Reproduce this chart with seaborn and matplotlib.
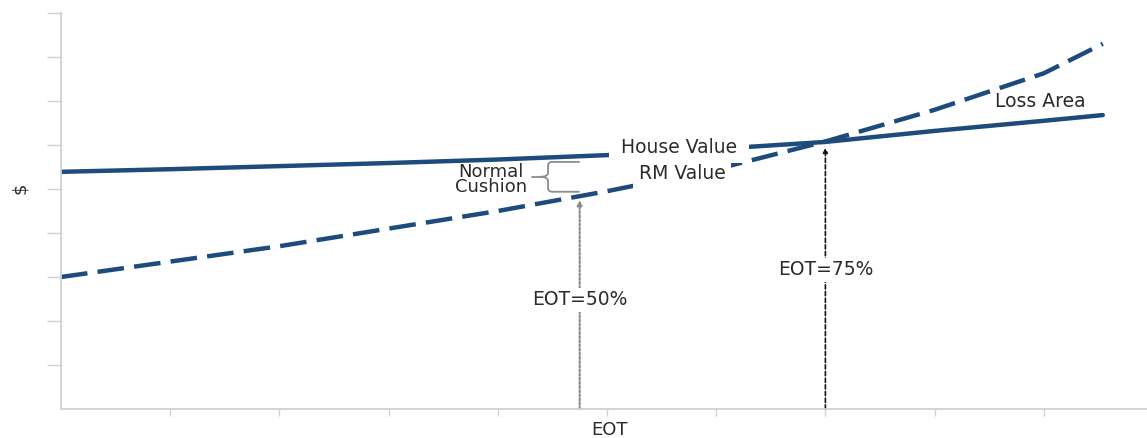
import numpy as np
import pandas as pd
import matplotlib
matplotlib.use("Agg")
import matplotlib.pyplot as plt
from matplotlib.path import Path
from matplotlib.patches import PathPatch
import seaborn as sns

# ---- data ----
x_pos = [0, 1, 2, 3, 4, 5, 6, 7, 8, 9, 9.54]
house_value = [5.39, 5.45, 5.52, 5.59, 5.67, 5.77, 5.91, 6.07, 6.32, 6.55, 6.68]
rm_value = [3.00, 3.35, 3.70, 4.10, 4.50, 4.95, 5.45, 6.08, 6.80, 7.63, 8.30]
series_names = ["House Value", "RM Value"]
eot50_x = 4.75
eot75_x = 7.0
eot50_label = "EOT=50%"
eot75_label = "EOT=75%"
cushion_label = "Normal\nCushion"
loss_label = "Loss Area"
x_title = "EOT"
y_title = "$"

df = pd.DataFrame({
    "x": x_pos * 2,
    "value": house_value + rm_value,
    "series": [series_names[0]] * len(x_pos) + [series_names[1]] * len(x_pos),
})

sns.set_style("white")
plt.rcParams["font.family"] = ["DejaVu Sans"]

W, H = 1147, 438
fig = plt.figure(figsize=(W / 100, H / 100), dpi=100)
ax = fig.add_axes([61 / W, 29 / H, 1086 / W, 396 / H])

line_color = "#1d4b7b"
text_color = "#2b2b2b"
axis_color = "#d0d0d0"

sns.lineplot(data=df, x="x", y="value", hue="series", style="series",
             palette={series_names[0]: line_color, series_names[1]: line_color},
             dashes={series_names[0]: "", series_names[1]: (6, 2.3)},
             estimator=None, sort=True, legend=False, linewidth=3.2, ax=ax)

ax.set_xlim(0, 1086 / 109.2)
ax.set_ylim(0, 9)
ax.set_xticks(range(1, 10))
ax.set_yticks(range(1, 10))
ax.set_xticklabels([])
ax.set_yticklabels([])
for s in ["top", "right"]:
    ax.spines[s].set_visible(False)
for s in ["left", "bottom"]:
    ax.spines[s].set_color(axis_color)
    ax.spines[s].set_linewidth(1.3)
ax.tick_params(axis="y", direction="out", length=10, width=1, color=axis_color, left=True)
ax.tick_params(axis="x", direction="out", length=5, width=1, color=axis_color, bottom=True)

ax.set_xlabel(x_title, fontsize=13, color=text_color)
ax.xaxis.set_label_coords(0.5055, -0.030)
ax.set_ylabel(y_title, fontsize=13, color=text_color)
ax.yaxis.set_label_coords(-0.0295, 0.558)

# ---- EOT arrows ----
rm50 = np.interp(eot50_x, x_pos, rm_value)
tip75 = min(np.interp(eot75_x, x_pos, house_value), np.interp(eot75_x, x_pos, rm_value))
ax.annotate("", xy=(eot50_x, rm50 - 0.09), xytext=(eot50_x, 0),
            arrowprops=dict(arrowstyle="-|>", mutation_scale=7, color="#888888",
                            linestyle=(0, (1.0, 1.0)), lw=1.5, shrinkA=0, shrinkB=0),
            zorder=1)
ax.annotate("", xy=(eot75_x, tip75 - 0.13), xytext=(eot75_x, 0),
            arrowprops=dict(arrowstyle="-|>", mutation_scale=7, color="#111111",
                            linestyle=(0, (2.5, 1.5)), lw=1.2, shrinkA=0, shrinkB=0),
            zorder=1)

box = dict(boxstyle="square,pad=0.15", fc="white", ec="none")
ax.text(eot50_x, 2.48, eot50_label, ha="center", va="center", fontsize=13.5,
        color=text_color, bbox=box, zorder=4)
ax.text(eot75_x, 3.16, eot75_label, ha="center", va="center", fontsize=13.5,
        color=text_color, bbox=box, zorder=4)

# ---- series labels ----
lbl_box = dict(boxstyle="square,pad=0.3", fc="white", ec="none")
ax.text(5.66, 5.94, " " + series_names[0] + " ", ha="center", va="center", fontsize=13.5,
        color=text_color, bbox=lbl_box, zorder=4)
ax.text(5.69, 5.35, series_names[1], ha="center", va="center", fontsize=13.5,
        color=text_color, bbox=lbl_box, zorder=5)
ax.text(8.97, 7.0, loss_label, ha="center", va="center", fontsize=13.5,
        color=text_color, zorder=4)

# ---- Normal cushion brace ----
house50 = np.interp(eot50_x, x_pos, house_value)
yt = house50 - 0.13
yb = rm50 + 0.10
ym = (yt + yb) / 2
xr, xv, xt, xd = eot50_x, eot50_x - 0.29, eot50_x - 0.37, eot50_x - 0.44
dx, dy = 0.04, 0.09
verts = [(xr, yt), (xv + dx, yt), (xv, yt), (xv, yt - dy), (xv, ym + dy),
         (xv, ym), (xt, ym), (xv, ym), (xv, ym - dy), (xv, yb + dy),
         (xv, yb), (xv + dx, yb), (xr, yb)]
codes = [Path.MOVETO, Path.LINETO, Path.CURVE3, Path.CURVE3, Path.LINETO,
         Path.CURVE3, Path.CURVE3, Path.CURVE3, Path.CURVE3, Path.LINETO,
         Path.CURVE3, Path.CURVE3, Path.LINETO]
ax.add_patch(PathPatch(Path(verts, codes), fc="none", ec="#8c8c8c", lw=1.3, zorder=3))
ax.plot([xd, xt], [ym, ym], color="#8c8c8c", lw=1.3, zorder=3)

ax.text(3.94, 5.22, cushion_label, ha="center", va="center", fontsize=13,
        linespacing=0.82, multialignment="center", color=text_color, zorder=4)

fig.savefig("out.png", dpi=100)
